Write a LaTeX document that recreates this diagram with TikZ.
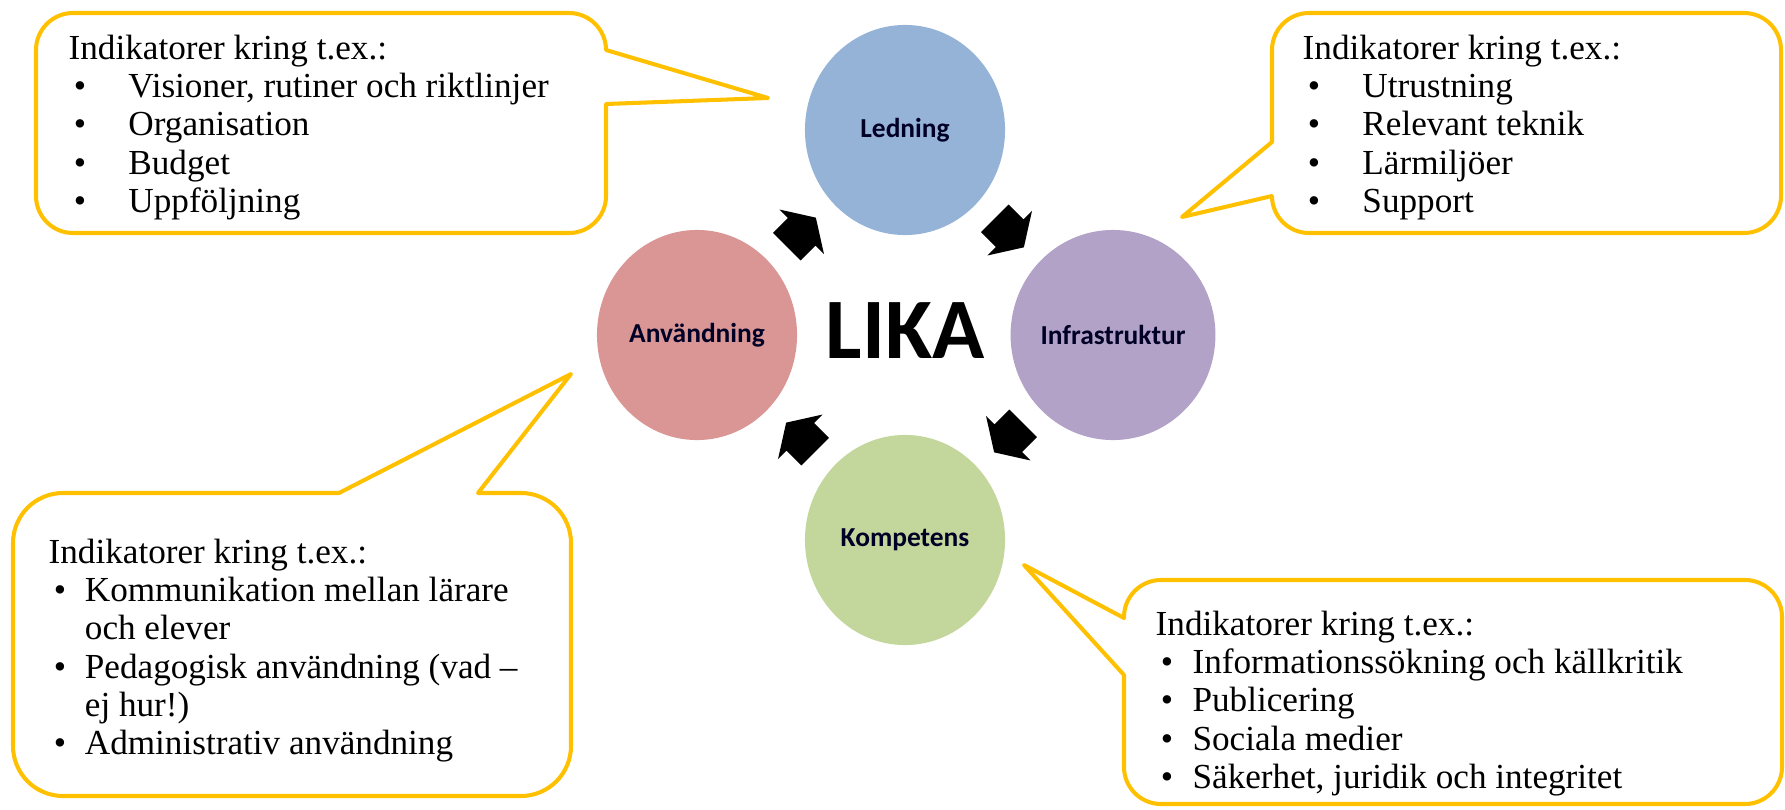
\documentclass[tikz,border=0pt]{standalone}
\usepackage{fontspec}
\setmainfont{Liberation Serif}
\newfontfamily\calibrifont{Carlito}
\usepackage{tikz}
\usetikzlibrary{shapes.geometric,calc,positioning}
\definecolor{calloutgold}{HTML}{FFC000}
\definecolor{ledblue}{HTML}{95B3D7}
\definecolor{infpurple}{HTML}{B3A2C7}
\definecolor{anvred}{HTML}{D99694}
\definecolor{kompgreen}{HTML}{C3D69B}
\newcommand{\itm}[2]{\makebox[#1][l]{\hspace{1.5pt}\textbullet}#2}

\begin{document}
\begin{tikzpicture}[x=0.01cm, y=-0.01cm,
		phase/.style = {ellipse, minimum width=2cm, minimum height=2.1cm, inner sep=0pt, text=black!85!blue, font=\calibrifont\bfseries\fontsize{7.8}{9}\selectfont},
		callout/.style = {draw=calloutgold, line width=1.15pt, line join=round},
		listtext/.style = {anchor=north west, inner sep=0pt, align=left, font=\fontsize{10}{10.9}\selectfont},
		cycarrow/.style = {fill=black}]
	\useasboundingbox (0,0) rectangle (1785,809);
	\node [phase, fill=ledblue] (led) at (905,130) {Ledning};
	\node [phase, fill=infpurple] (inf) at (1113,335) {Infrastruktur};
	\node [phase, fill=kompgreen] (komp) at (905,540) {Kompetens};
	\node [phase, fill=anvred] (anv) at (697,335) {Användning};
	\node [font=\calibrifont\bfseries\fontsize{24.5}{29}\selectfont] (lika) at (905,331) {LIKA};
	\foreach \from/\to/\ang in {anv/led/45, led/inf/-45, inf/komp/-135, komp/anv/135}
		\fill [cycarrow, shift={($(\from)!0.5!(\to)$)}, rotate=\ang] (-20,-19.5) -- (1,-19.5) -- (1,-31.5) -- (21,0) -- (1,31.5) -- (1,19.5) -- (-20,19.5) -- cycle;
	
	\draw [callout] (606,50) -- (768,98) -- (606,104) [rounded corners=0.37cm] -- (606,233) -- (36,233) -- (36,13) -- (606,13) [sharp corners] -- cycle;
	\draw [callout] (1272,196) -- (1182,217) -- (1272,142) [rounded corners=0.37cm] -- (1272,13) -- (1781,13) -- (1781,233) -- (1272,233) [sharp corners] -- cycle;
	\draw [callout] (478,493) -- (571,374) -- (339,493) [rounded corners=0.5cm] -- (13,493) -- (13,796) -- (571,796) -- (571,493) [sharp corners] -- cycle;
	\draw [callout] (1124,675) -- (1024,565) -- (1124,618) [rounded corners=0.37cm] -- (1124,580) -- (1782,580) -- (1782,804) -- (1124,804) [sharp corners] -- cycle;
	
	\node [listtext] (ledlist) at (68,34) {Indikatorer kring t.ex.:\\
		\itm{17pt}{Visioner, rutiner och riktlinjer}\\
		\itm{17pt}{Organisation}\\
		\itm{17pt}{Budget}\\
		\itm{17pt}{Uppföljning}};
	\node [listtext] (inflist) at (1302,34) {Indikatorer kring t.ex.:\\
		\itm{17pt}{Utrustning}\\
		\itm{17pt}{Relevant teknik}\\
		\itm{17pt}{Lärmiljöer}\\
		\itm{17pt}{Support}};
	\node [listtext] (anvlist) at (48,538) {Indikatorer kring t.ex.:\\
		\itm{10.3pt}{Kommunikation mellan lärare}\\
		\hspace*{10.3pt}och elever\\
		\itm{10.3pt}{Pedagogisk användning (vad --}\\
		\hspace*{10.3pt}ej hur!)\\
		\itm{10.3pt}{Administrativ användning}};
	\node [listtext] (komplist) at (1155,610) {Indikatorer kring t.ex.:\\
		\itm{10.5pt}{Informationssökning och källkritik}\\
		\itm{10.5pt}{Publicering}\\
		\itm{10.5pt}{Sociala medier}\\
		\itm{10.5pt}{Säkerhet, juridik och integritet}};
\end{tikzpicture}
\end{document}
